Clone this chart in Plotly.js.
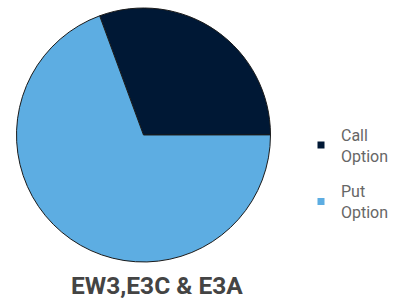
<!DOCTYPE html>
<html><head><meta charset="utf-8">
<script src="https://cdn.plot.ly/plotly-3.0.1.min.js"></script>
<style>html,body{margin:0;padding:0;background:#fff}#c{width:394px;height:302px}</style>
</head><body><div id="c"></div>
<script>
const labels = ["Call<br>Option", "Put<br>Option"];
const values = [30.6, 69.4];
const colors = ["#001835", "#5dade2"];
const chartTitle = "EW3,E3C &amp; E3A";

const traces = [{
  type: "pie",
  labels: labels,
  values: values,
  sort: false,
  direction: "clockwise",
  rotation: -20.2,
  textinfo: "none",
  hoverinfo: "none",
  showlegend: false,
  marker: {colors: colors, line: {color: "#1a1a1a", width: 1}},
  domain: {x: [0.0406, 0.6878], y: [0.1325, 0.9735]}
}];
labels.forEach((lab, i) => {
  traces.push({
    type: "scatter", mode: "markers", x: [null], y: [null],
    name: lab, legendgroup: "g" + i, showlegend: true,
    marker: {symbol: "square", size: 7, color: colors[i]}
  });
});

Plotly.newPlot("c", traces, {
  width: 394, height: 302,
  margin: {l: 0, r: 0, t: 0, b: 0},
  paper_bgcolor: "#fff", plot_bgcolor: "rgba(0,0,0,0)",
  xaxis: {visible: false}, yaxis: {visible: false},
  font: {family: "Roboto, Arial, sans-serif", size: 16, color: "#666"},
  showlegend: true,
  legend: {x: 1, y: 0.425, xanchor: "right", yanchor: "middle", font: {size: 16, color: "#666"},
           itemwidth: 30, itemsizing: "trace", tracegroupgap: 12, bgcolor: "rgba(0,0,0,0)"},
  annotations: [{
    text: chartTitle, showarrow: false, xref: "paper", yref: "paper",
    x: 0.399, y: 0.053, xanchor: "center", yanchor: "middle", borderpad: 0,
    font: {family: "Roboto, Arial, sans-serif", size: 24.5, color: "#444", weight: "bold"}
  }]
}, {staticPlot: true});
</script></body></html>
